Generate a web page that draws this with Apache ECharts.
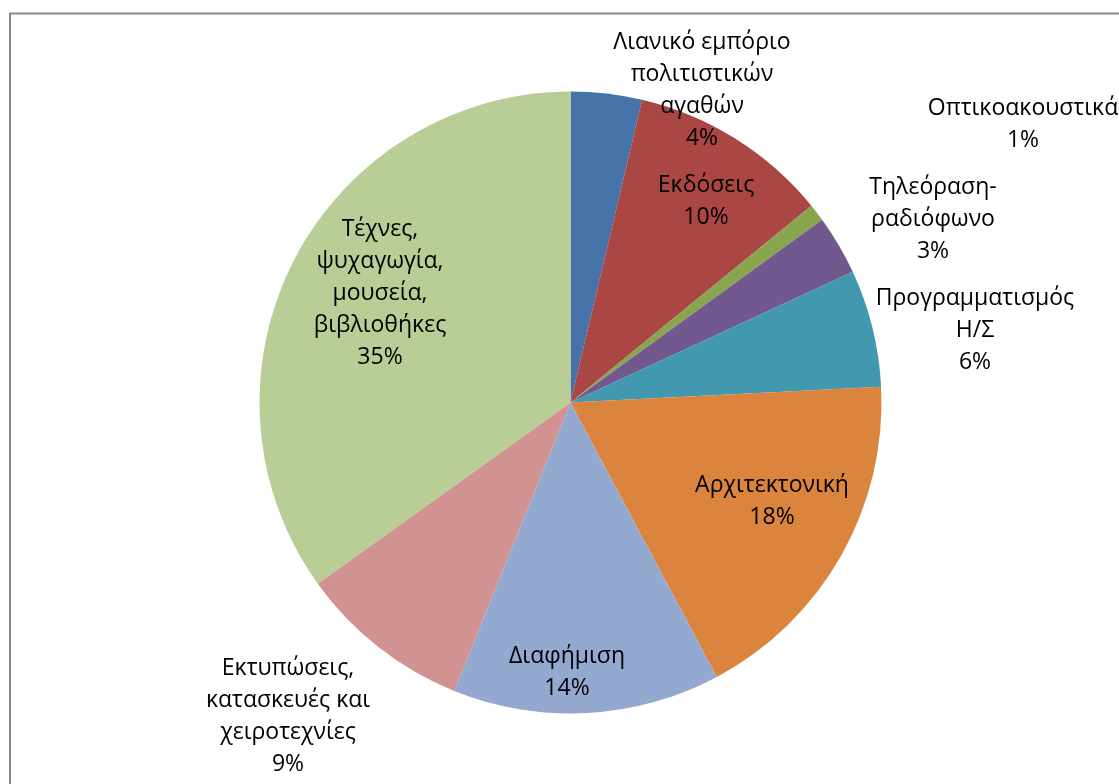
<!DOCTYPE html>
<html>
<head>
<meta charset="utf-8">
<script src="https://cdn.jsdelivr.net/npm/echarts@6/dist/echarts.min.js"></script>
<style>
html,body{margin:0;padding:0;background:#fff;}
#c{width:1119px;height:784px;}
</style>
</head>
<body>
<div id="c"></div>
<script>
// ---- data ----
var categories = [
  'Λιανικό εμπόριο πολιτιστικών αγαθών',
  'Εκδόσεις',
  'Οπτικοακουστικά',
  'Τηλεόραση-ραδιόφωνο',
  'Προγραμματισμός Η/Σ',
  'Αρχιτεκτονική',
  'Διαφήμιση',
  'Εκτυπώσεις, κατασκευές και χειροτεχνίες',
  'Τέχνες, ψυχαγωγία, μουσεία, βιβλιοθήκες'
];
var values = [3.7, 10.4, 0.9, 3.1, 6.1, 18.0, 13.9, 9.0, 34.9];

// ---- presentation ----
var labelWrapped = [
  'Λιανικό εμπόριο\nπολιτιστικών\nαγαθών',
  'Εκδόσεις',
  'Οπτικοακουστικά',
  'Τηλεόραση-\nραδιόφωνο',
  'Προγραμματισμός\nΗ/Σ',
  'Αρχιτεκτονική',
  'Διαφήμιση',
  'Εκτυπώσεις,\nκατασκευές και\nχειροτεχνίες',
  'Τέχνες,\nψυχαγωγία,\nμουσεία,\nβιβλιοθήκες'
];
var labelAnchors = [
  [702, 90], [706, 201], [1023, 124], [933, 219], [975, 330],
  [772, 501], [567, 672], [288, 716], [380, 293]
];
var colors = ['#4572A7', '#AA4643', '#89A54E', '#71588F', '#4198AF',
              '#DB843D', '#93A9CF', '#D19392', '#B9CD96'];

var chart = echarts.init(document.getElementById('c'), null, {renderer: 'canvas'});
chart.setOption({
  animation: false,
  backgroundColor: '#ffffff',
  color: colors,
  graphic: [{
    type: 'rect',
    shape: {x: 10, y: 13.5, width: 1300, height: 1000},
    style: {fill: 'none', stroke: '#898989', lineWidth: 2},
    silent: true, z: 100
  }],
  series: [{
    type: 'pie',
    center: [570.5, 402.5],
    radius: 311,
    startAngle: 90,
    clockwise: true,
    avoidLabelOverlap: false,
    itemStyle: {borderWidth: 0},
    label: {
      show: true,
      position: 'inside',
      color: '#000',
      fontFamily: 'Open Sans',
      fontSize: 23,
      lineHeight: 32,
      align: 'center',
      formatter: function (p) {
        return labelWrapped[p.dataIndex] + '\n' + Math.round(p.percent) + '%';
      }
    },
    labelLine: {show: false},
    labelLayout: function (p) {
      var a = labelAnchors[p.dataIndex];
      return {x: a[0], y: a[1], align: 'center', verticalAlign: 'middle', hideOverlap: false, moveOverlap: null};
    },
    emphasis: {disabled: true},
    data: categories.map(function (n, i) { return {name: n, value: values[i]}; })
  }]
});
</script>
</body>
</html>
